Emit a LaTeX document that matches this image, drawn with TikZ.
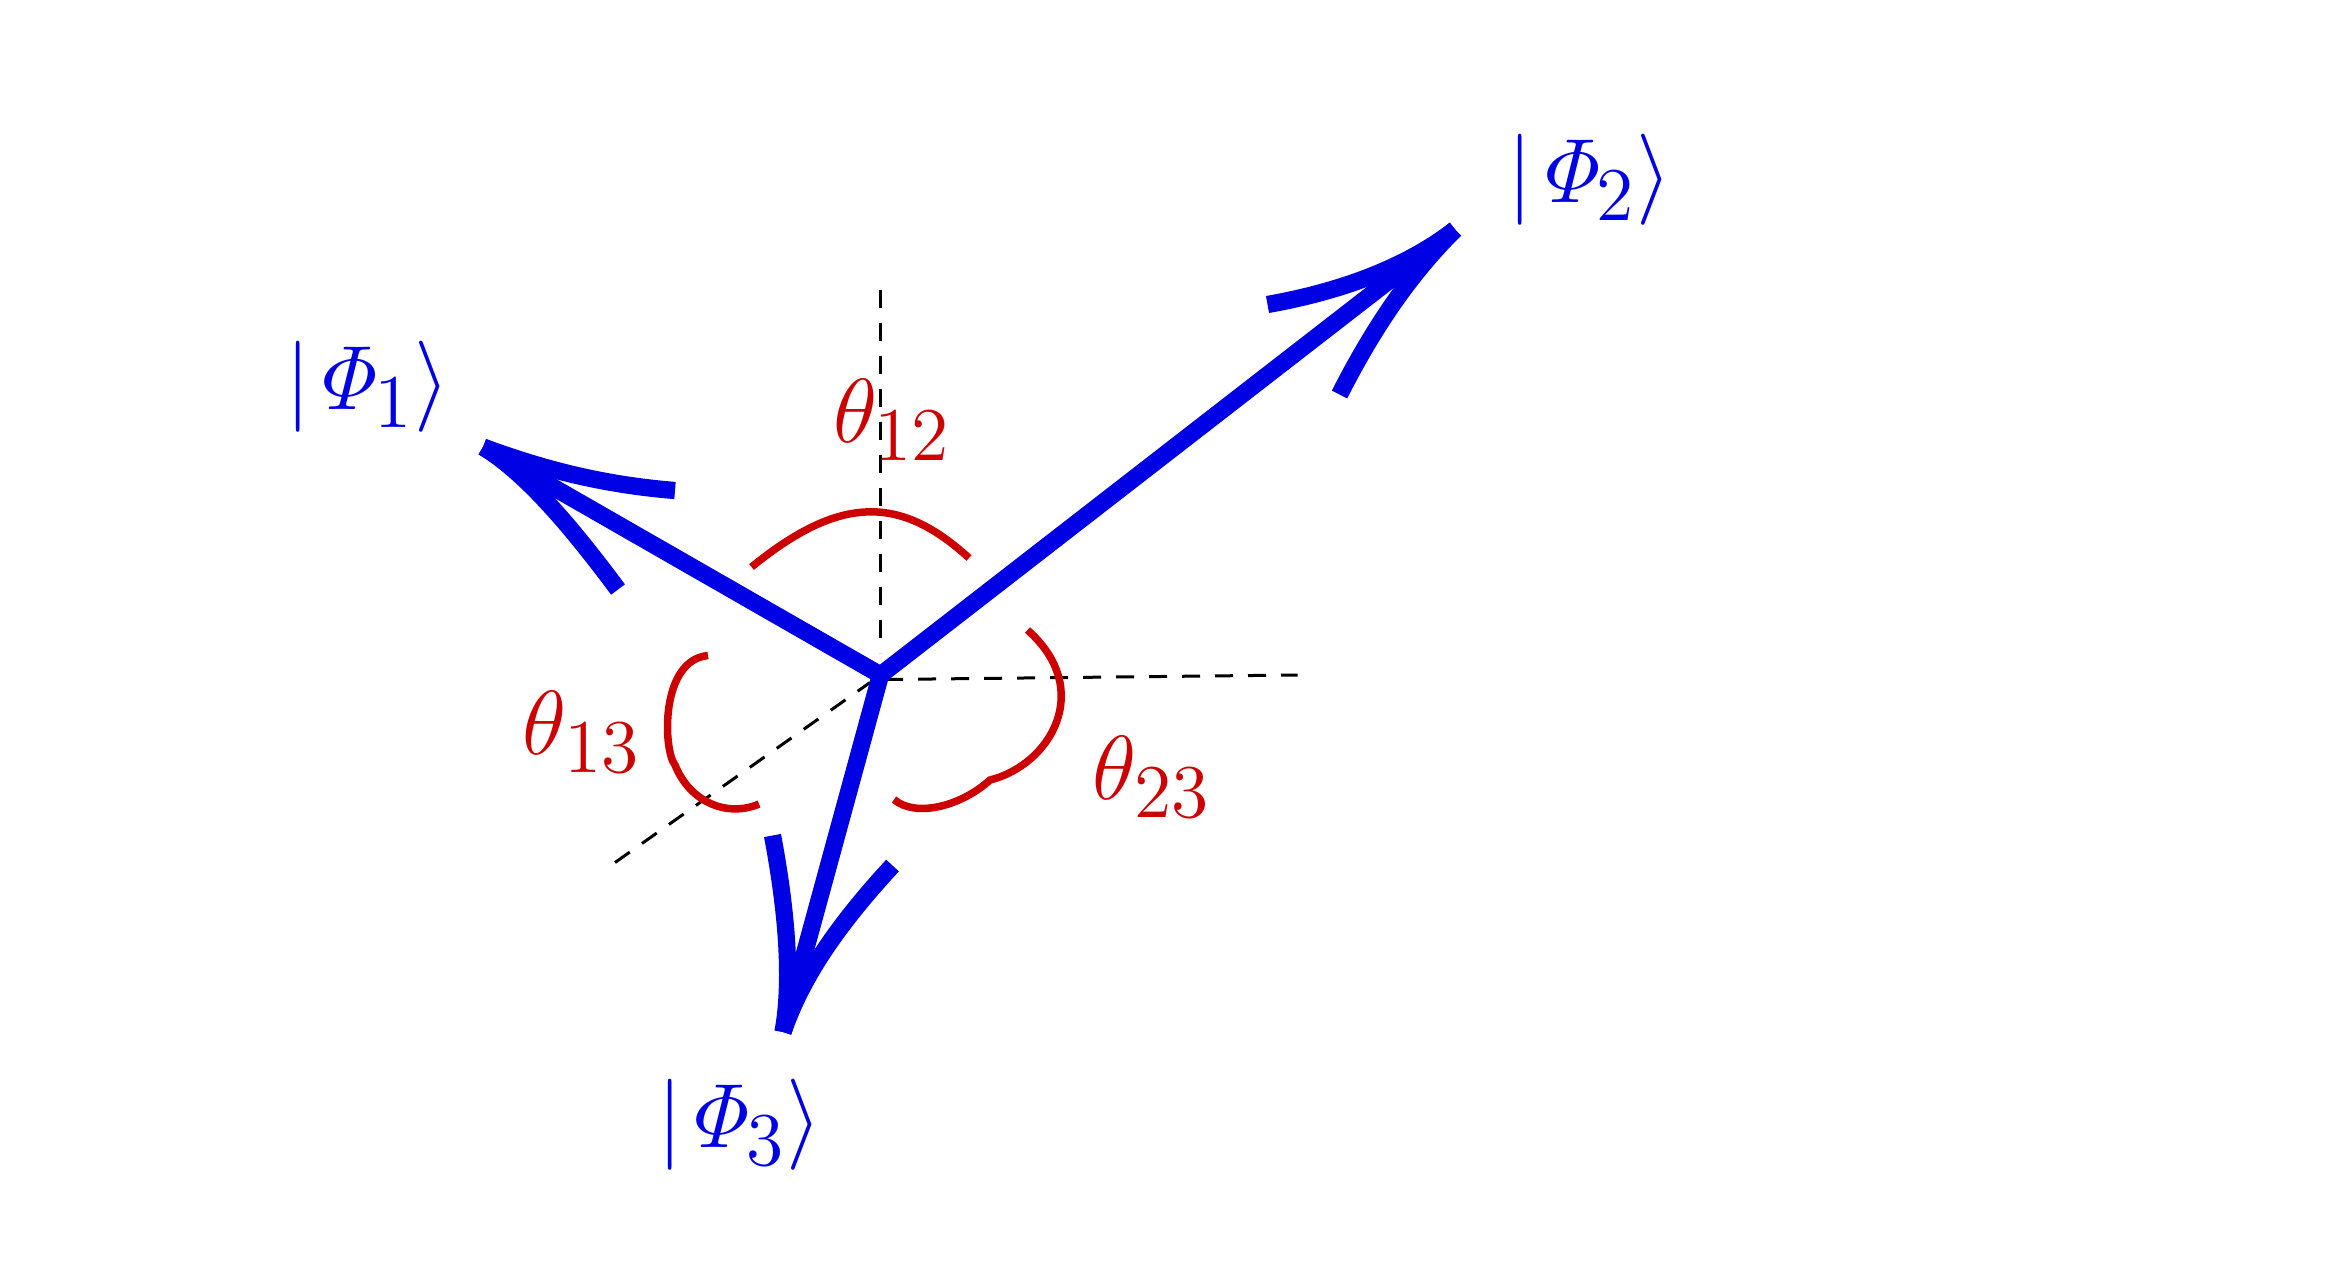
\documentclass[tikz,border=0pt]{standalone}
\begin{document}
\begin{tikzpicture}[x=1cm,y=-1cm,
  vec/.style={draw=blue!90!black,line width=0.115cm},
  ang/.style={draw=red!80!black,line width=0.05cm},
  aux/.style={draw=black,line width=0.02cm,dash pattern=on 0.12cm off 0.1cm},
  blab/.style={text=blue!90!black,font=\fontsize{19}{22}\selectfont},
  rlab/.style={text=red!80!black,font=\fontsize{19}{22}\selectfont}]
\useasboundingbox (0,0) rectangle (15.6,8.4);
\coordinate (O) at (5.87,4.5);
\coordinate (t1) at (3.22,2.98);
\coordinate (t2) at (9.70,1.53);
\coordinate (t3) at (5.22,6.88);
\coordinate (vtop) at (5.87,1.93);
\coordinate (vbot) at (5.87,4.35);
\coordinate (hl) at (5.90,4.53);
\coordinate (hr) at (8.65,4.50);
\coordinate (dl) at (4.10,5.75);
\coordinate (dr) at (5.80,4.55);
\draw[aux] (vtop) -- (vbot);
\draw[aux] (hl) -- (hr);
\draw[aux] (dl) -- (dr);
\draw[vec] (O) -- (t1);
\draw[vec] (O) -- (t2);
\draw[vec] (O) -- (t3);
% arrowheads
\draw[vec] (4.50,3.27) .. controls (4.0,3.23) and (3.6,3.12) .. (t1);
\draw[vec] (4.12,3.93) .. controls (3.8,3.5) and (3.5,3.15) .. (t1);
\draw[vec] (8.45,2.03) .. controls (8.9,1.95) and (9.35,1.8) .. (t2);
\draw[vec] (8.93,2.63) .. controls (9.2,2.1) and (9.45,1.78) .. (t2);
\draw[vec] (5.15,5.57) .. controls (5.25,6.1) and (5.28,6.55) .. (t3);
\draw[vec] (5.95,5.77) .. controls (5.6,6.15) and (5.35,6.5) .. (t3);
% angle arcs
\draw[ang] (5.01,3.78) .. controls (5.6,3.3) and (6.0,3.3) .. (6.46,3.72);
\draw[ang] (4.72,4.37) .. controls (4.4,4.4) and (4.42,5.0) .. (4.50,5.1) .. controls (4.6,5.35) and (4.85,5.45) .. (5.06,5.36);
\draw[ang] (6.85,4.20) .. controls (7.3,4.6) and (7.0,5.1) .. (6.6,5.2) .. controls (6.4,5.38) and (6.1,5.45) .. (5.96,5.33);
\node[rlab] (l12) at (5.95,2.80) {$\theta_{12}$};
\node[rlab] (l13) at (3.88,4.88) {$\theta_{13}$};
\node[rlab] (l23) at (7.68,5.18) {$\theta_{23}$};
\node[blab] (p1) at (2.45,2.58) {$|\mathit{\Phi}_1\rangle$};
\node[blab] (p2) at (10.60,1.20) {$|\mathit{\Phi}_2\rangle$};
\node[blab] (p3) at (4.93,7.50) {$|\mathit{\Phi}_3\rangle$};
\end{tikzpicture}
\end{document}
